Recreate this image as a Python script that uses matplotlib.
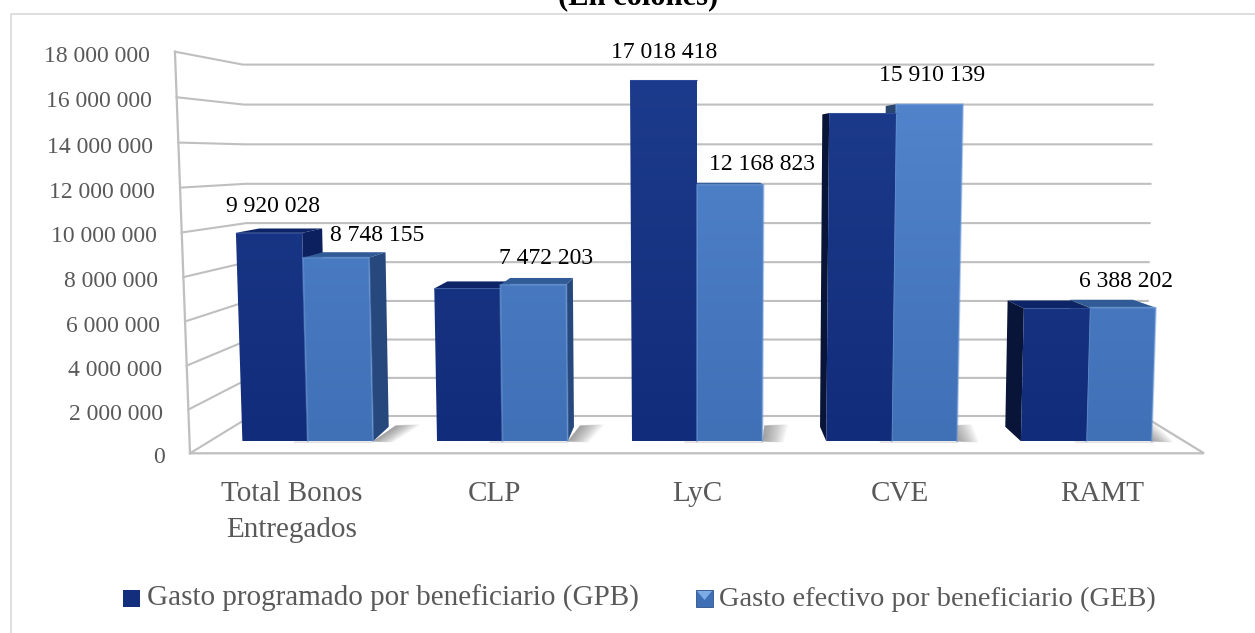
"""Gasto programado vs efectivo por beneficiario, faux 3D bars."""
import matplotlib

matplotlib.use("Agg")
import matplotlib.pyplot as plt
import numpy as np
from matplotlib.colors import LinearSegmentedColormap
from matplotlib.patches import Polygon, Rectangle

categories = ["Total Bonos\nEntregados", "CLP", "LyC", "CVE", "RAMT"]
gpb_values = [9920028, 7300000, 17018418, 15500000, 6350000]
geb_values = [8748155, 7472203, 12168823, 15910139, 6388202]
gpb_labels = ["9 920 028", None, "17 018 418", None, None]
geb_labels = ["8 748 155", "7 472 203", "12 168 823", "15 910 139", "6 388 202"]
y_ticks = [0, 2000000, 4000000, 6000000, 8000000, 10000000, 12000000, 14000000,
           16000000, 18000000]
series_names = ["Gasto programado por beneficiario (GPB)",
                "Gasto efectivo por beneficiario (GEB)"]
title_text = "(En colones)"

# label nudges from the top of each bar, pixels
gpb_nudge = [(4, -26), None, (1, -28), None, None]
geb_nudge = [(41, -22), (13, -26), (32, -20), (3, -29), (3, -26)]

FONT = "Liberation Serif"
GRID = "#bfbfbf"
TEXT = "#595959"
X0 = 697.0  # horizontal vanishing centre of the scene
HALF_W = 507.0
D_FRONT, D_BACK = 0.324, 0.71  # bar depth in the floor, 0 front wall, 1 back wall
SPACING = 202.5
BAR_W = 68.0


def project(x, value, depth):
    """Scene position (x from centre, value in colones, depth 0-1) to pixels."""
    m = value / 1e6
    scale = 1 - 0.12 * depth
    k = 0.00165 - 0.00065 * depth
    px = X0 + x * scale * (1 + k * m)
    py = 453.3 - 37.3 * depth - ((21.79 - 2.79 * depth ** 0.85) * m + 0.029 * m * m)
    return px, py


fig = plt.figure(figsize=(12.55, 6.33), dpi=100)
ax = fig.add_axes([0, 0, 1, 1])
ax.set_xlim(0, 1255)
ax.set_ylim(633, 0)
ax.axis("off")

# chart frame, right and bottom sides fall outside the picture
ax.plot([10.5, 10.5, 1255], [633, 13.5, 13.5], color="#d9d9d9", lw=1.2, zorder=1)

# walls and floor
for v in y_ticks:
    fx, fy = project(-HALF_W, v, 0)
    bx, by = project(-HALF_W, v, 1)
    rx, ry = project(HALF_W, v, 1)
    ax.plot([fx, bx, rx + 2], [fy, by, ry], color=GRID, lw=1.5, zorder=2, solid_joinstyle="miter")
    ax.text(fx - 25, fy + 4.5, f"{v:,}".replace(",", " "), ha="right", va="center",
            family=FONT, fontsize=17, color=TEXT)
top = project(-HALF_W, y_ticks[-1], 0)
bottom = project(-HALF_W, 0, 0)
ax.plot([top[0], bottom[0]], [top[1], bottom[1]], color=GRID, lw=1.6, zorder=2)
right = project(HALF_W, 0, 0)
back_right = project(HALF_W, 0, 1)
ax.plot([bottom[0], right[0], back_right[0]], [bottom[1], right[1], back_right[1]],
        color=GRID, lw=1.6, zorder=2, solid_joinstyle="miter")

dark_cmap = LinearSegmentedColormap.from_list("dark", ["#1d3b8c", "#112c7a"])
blue_cmap = LinearSegmentedColormap.from_list("blue", ["#5285cd", "#4070b6"])
gradient = np.linspace(0, 1, 256).reshape(-1, 1)

dark_faces = {"side_r": "#0c1f5e", "side_l": "#081538", "top": "#0d2466"}
blue_faces = {"side_r": "#26487c", "side_l": "#28466f", "top": "#305b96"}


def draw_bar(x_left, x_right, value, cmap, faces, z, bevel):
    fl = [project(x_left, value, D_FRONT), project(x_right, value, D_FRONT),
          project(x_right, 0, D_FRONT), project(x_left, 0, D_FRONT)]
    bl_top = project(x_left, value, D_BACK)
    br_top = project(x_right, value, D_BACK)
    # top face, only when we look at it from above
    if fl[0][1] - bl_top[1] > 1.5:
        ax.add_patch(Polygon([fl[0], fl[1], br_top, bl_top], fc=faces["top"], ec="none", zorder=z))
    if fl[1][0] < X0:
        ax.add_patch(Polygon([fl[1], br_top, project(x_right, 0, D_BACK), fl[2]],
                             fc=faces["side_r"], ec="none", zorder=z))
    if fl[0][0] > X0:
        ax.add_patch(Polygon([fl[0], bl_top, project(x_left, 0, D_BACK), fl[3]],
                             fc=faces["side_l"], ec="none", zorder=z))
    face = Polygon(fl, fc="none", ec="none", zorder=z + 0.1)
    ax.add_patch(face)
    im = ax.imshow(gradient, cmap=cmap, extent=(0, 1255, 441, 77), aspect="auto",
                   zorder=z + 0.1, origin="upper")
    im.set_clip_path(face)
    if bevel:
        ax.plot([fl[3][0], fl[0][0], fl[1][0], fl[2][0]], [fl[3][1], fl[0][1], fl[1][1], fl[2][1]],
                color="#6d9ad8", lw=1.4, alpha=0.5, zorder=z + 0.2)
    else:
        ax.plot([fl[0][0], fl[1][0]], [fl[0][1], fl[1][1]], color="#3a58a4", lw=0.8,
                alpha=0.6, zorder=z + 0.2)


def draw_shadow(x_left, x_right, z):
    # contact band under both bars
    band = [project(x_left + 55, 0, D_FRONT), project(x_right, 0, D_FRONT),
            project(x_right, 0, D_FRONT - 0.05), project(x_left + 55, 0, D_FRONT - 0.05)]
    ax.add_patch(Polygon(band, fc="#909090", ec="none", alpha=0.25, zorder=z))
    # soft cast shadow on the floor, fading to the right
    for w in np.arange(1.5, 33, 1.5):
        pts = [project(x_right, 0, D_FRONT), project(x_right + 6, 0, D_BACK + 0.03),
               project(x_right + 6 + w * 0.85, 0, D_BACK + 0.06), project(x_right + 0.7 * w, 0, D_FRONT - 0.03)]
        ax.add_patch(Polygon(pts, fc="#505050", ec="none", alpha=0.03, zorder=z))


for i, name in enumerate(categories):
    centre = (i - 2) * SPACING
    z = 10 + i * 2
    draw_shadow(centre - BAR_W, centre + BAR_W, 5)
    bars = [(centre - BAR_W, centre, gpb_values[i], dark_cmap, dark_faces, False),
            (centre, centre + BAR_W, geb_values[i], blue_cmap, blue_faces, True)]
    # the bar nearer the centre of view goes behind
    if centre > 0:
        bars = bars[::-1]
    for n, (xl, xr, val, cmap, faces, bevel) in enumerate(bars):
        draw_bar(xl, xr, val, cmap, faces, z + n * 0.5, bevel)

    lx, _ = project(centre, 0, 0)
    for n, line in enumerate(name.split("\n")):
        ax.text(lx, 501 + 36 * n, line, ha="center", va="baseline", family=FONT, fontsize=21,
                color=TEXT)

    for xmid, val, label, nudge in [(centre - BAR_W / 2, gpb_values[i], gpb_labels[i], gpb_nudge[i]),
                                    (centre + BAR_W / 2, geb_values[i], geb_labels[i], geb_nudge[i])]:
        if label is None:
            continue
        px, py = project(xmid, val, D_FRONT)
        ax.text(px + nudge[0], py + nudge[1], label, ha="center", va="center", family=FONT,
                fontsize=17, color="black", zorder=40)

ax.set_xlim(0, 1255)
ax.set_ylim(633, 0)

# title is cut by the top of the picture, as in the source
ax.text(638, 4, title_text, ha="center", va="baseline", family=FONT, fontsize=22,
        fontweight="bold", color="black", zorder=40)

# legend
ax.add_patch(Rectangle((123, 590), 17, 17, fc="#122e7c", ec="none", zorder=30))
ax.text(147, 605.5, series_names[0], ha="left", va="baseline", family=FONT, fontsize=21, color=TEXT)
ax.add_patch(Rectangle((696, 590), 17, 17, fc="#3f6fb5", ec="#2c5288", lw=0.6, zorder=30))
ax.add_patch(Polygon([(697, 591), (712, 591), (704.5, 600)], fc="#7dabe6", ec="none", zorder=31))
ax.text(719, 605.5, series_names[1], ha="left", va="baseline", family=FONT, fontsize=20.5, color=TEXT)

fig.savefig("out.png", dpi=100)
